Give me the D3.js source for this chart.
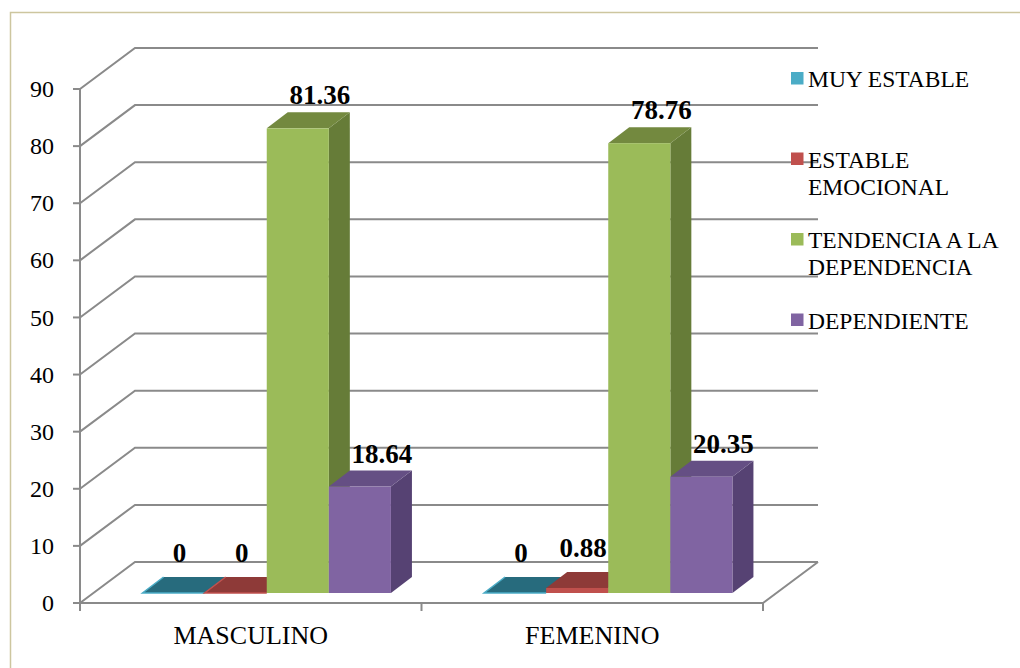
<!DOCTYPE html>
<html>
<head>
<meta charset="utf-8">
<script src="https://cdn.jsdelivr.net/npm/d3@7/dist/d3.min.js"></script>
<style>
  html, body { margin: 0; padding: 0; background: #fff; }
  svg { display: block; }
</style>
</head>
<body>
<svg id="chart" width="1020" height="668"></svg>
<script>
// ---- data ----
const categories = ["MASCULINO", "FEMENINO"];
const seriesNames = ["MUY ESTABLE", "ESTABLE EMOCIONAL", "TENDENCIA A LA DEPENDENCIA", "DEPENDIENTE"];
const muyEstable = [0, 0];
const estableEmocional = [0, 0.88];
const tendencia = [81.36, 78.76];
const dependiente = [18.64, 20.35];
const seriesValues = [muyEstable, estableEmocional, tendencia, dependiente];
const yTicks = [0, 10, 20, 30, 40, 50, 60, 70, 80, 90];
const labelTexts = [["0", "0", "81.36", "18.64"], ["0", "0.88", "78.76", "20.35"]];

// ---- styles ----
const FONT = "'Liberation Serif', 'DejaVu Serif', 'Times New Roman', serif";
const frontColors = ["#4BACC6", "#C0504D", "#9BBB59", "#8064A2"];
const topColors   = ["#276b7d", "#8e3a38", "#73893f", "#654f84"];
const sideColors  = ["#2f7b8f", "#973f3c", "#667c38", "#564273"];

(function draw() {
  const svg = d3.select("#chart").attr("font-family", FONT);

  // frame (right/bottom edges fall outside the picture)
  svg.append("rect").attr("x", 10.5).attr("y", 12.5).attr("width", 1040).attr("height", 700)
    .attr("fill", "none").attr("stroke", "#cdc69f").attr("stroke-width", 1.5);

  // geometry
  const pLeft = 80, pRight = 763, pTop = 89, pBottom = 603;
  const DX = 55, DY = -41;          // wall depth
  const offX = 16, offY = -10;      // bar front plane offset
  const bdx = 21, bdy = -16;        // bar depth

  const y = d3.scaleLinear().domain([0, 90]).range([pBottom, pTop]);
  const x = d3.scaleBand().domain(categories).range([pLeft, pRight]).paddingInner(0).paddingOuter(0);
  const inner = d3.scaleBand().domain(d3.range(seriesNames.length))
    .range([0, x.bandwidth()]).paddingInner(0).paddingOuter(0.75);

  const grid = svg.append("g").attr("fill", "none").attr("stroke", "#8a8a8a").attr("stroke-width", 2);
  yTicks.forEach(t => {
    grid.append("path").attr("d",
      `M${pLeft},${y(t)} L${pLeft + DX},${y(t) + DY} L${pRight + DX},${y(t) + DY}`);
  });
  grid.append("path").attr("d", `M${pLeft},${y(0)} L${pRight},${y(0)} L${pRight + DX},${y(0) + DY}`);
  grid.append("line").attr("x1", pLeft).attr("x2", pLeft).attr("y1", y(90)).attr("y2", y(0) + 8);
  yTicks.forEach(t => {
    grid.append("line").attr("x1", pLeft - 7).attr("x2", pLeft).attr("y1", y(t)).attr("y2", y(t));
  });
  [pLeft, pLeft + x.bandwidth(), pRight].forEach(px => {
    grid.append("line").attr("x1", px).attr("x2", px).attr("y1", y(0)).attr("y2", y(0) + 8);
  });

  svg.append("g").selectAll("text").data(yTicks).join("text")
    .attr("x", 54).attr("y", d => y(d)).attr("dy", "0.34em")
    .attr("text-anchor", "end").attr("font-size", 24).text(d => d);

  svg.append("g").selectAll("text").data(categories).join("text")
    .attr("x", d => x(d) + x.bandwidth() / 2).attr("y", 644)
    .attr("text-anchor", "middle").attr("font-size", 26).text(d => d);

  const barsG = svg.append("g");
  const labelsG = svg.append("g");
  categories.forEach((cat, ci) => {
    seriesNames.forEach((s, si) => {
      const v = seriesValues[si][ci];
      const x0 = x(cat) + offX + inner(si);
      const w = inner.bandwidth();
      const yb = y(0) + offY;
      const yt = y(v) + offY;
      const g = barsG.append("g");
      g.append("polygon").attr("points",
        [[x0 + w, yt], [x0 + w + bdx, yt + bdy], [x0 + w + bdx, yb + bdy], [x0 + w, yb]].join(" "))
        .attr("fill", sideColors[si]);
      g.append("polygon").attr("points",
        [[x0, yt], [x0 + bdx, yt + bdy], [x0 + w + bdx, yt + bdy], [x0 + w, yt]].join(" "))
        .attr("fill", topColors[si]);
      if (yb - yt > 0) {
        g.append("rect").attr("x", x0).attr("y", yt).attr("width", w).attr("height", yb - yt)
          .attr("fill", frontColors[si]);
      } else {
        g.append("path").attr("d", `M${x0 + bdx},${yt + bdy} L${x0},${yt} L${x0 + w},${yt}`)
          .attr("fill", "none").attr("stroke", frontColors[si]).attr("stroke-width", 1.5);
      }
      const shortBar = (yb - yt) < -bdy;
      labelsG.append("text")
        .attr("x", x0 + w / 2 + (shortBar ? 6 : bdx + 1))
        .attr("y", yt + bdy - (shortBar ? 15 : 8))
        .attr("text-anchor", "middle").attr("font-size", 27).attr("font-weight", "bold")
        .text(labelTexts[ci][si]);
    });
  });

  const legend = svg.append("g");
  seriesNames.forEach((name, i) => {
    const ly = 87 + i * 80.5;
    legend.append("rect").attr("x", 791).attr("y", ly - 15).attr("width", 12.5).attr("height", 12.5)
      .attr("fill", frontColors[i]);
    const t = legend.append("text").attr("x", 808).attr("y", ly).attr("font-size", 23.5);
    const words = name.split(" ");
    let line = [];
    let tspan = t.append("tspan").attr("x", 808).attr("dy", 0);
    words.forEach(wd => {
      line.push(wd);
      tspan.text(line.join(" "));
      if (tspan.node().getComputedTextLength() > 205 && line.length > 1) {
        line.pop();
        tspan.text(line.join(" "));
        line = [wd];
        tspan = t.append("tspan").attr("x", 808).attr("dy", 27).text(wd);
      }
    });
  });
})();
</script>
</body>
</html>
